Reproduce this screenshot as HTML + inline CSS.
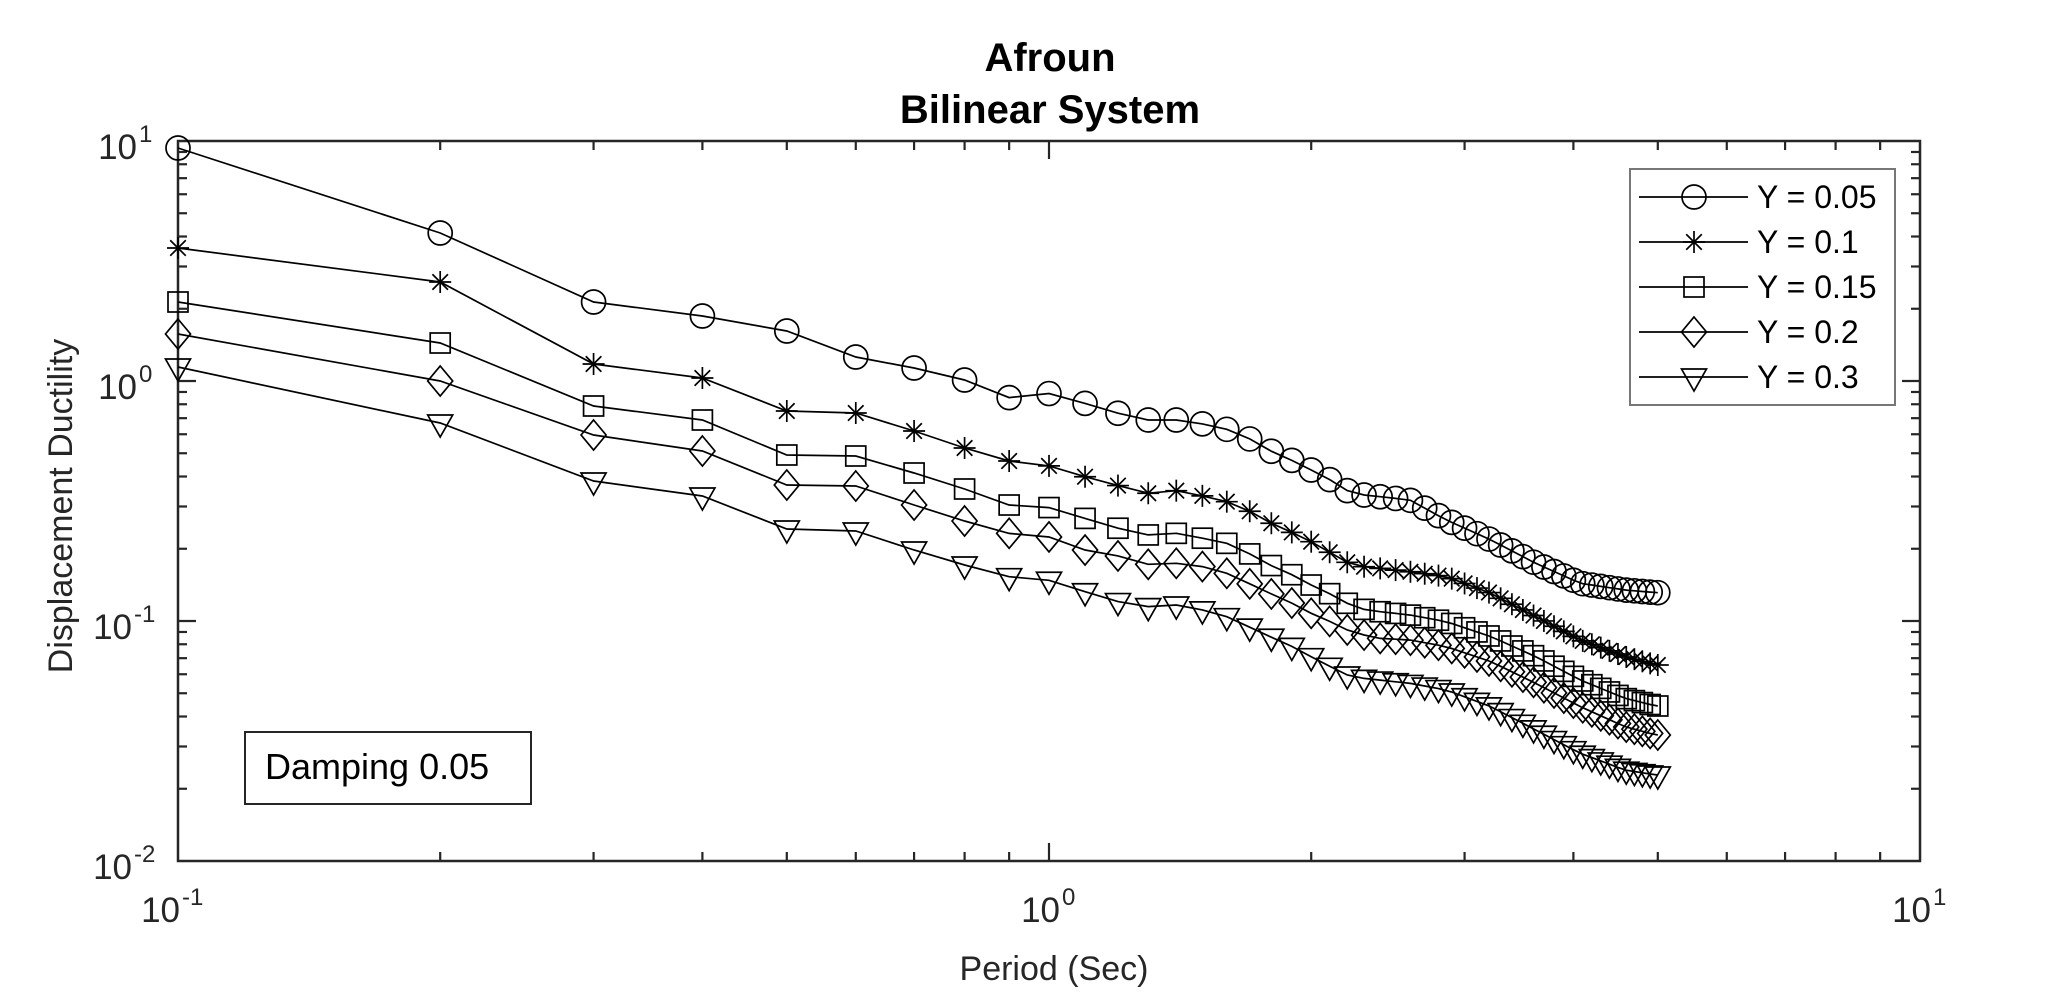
<!DOCTYPE html>
<html><head><meta charset="utf-8"><style>
html,body{margin:0;padding:0;background:#fff;}
svg{display:block;font-family:"Liberation Sans",Arial,sans-serif;}
</style></head><body>
<svg id="s" width="2056" height="1004" viewBox="0 0 2056 1004" xmlns="http://www.w3.org/2000/svg">
<rect width="2056" height="1004" fill="#fff"/>
<text x="1050" y="71" font-size="40" font-weight="bold" text-anchor="middle" fill="#000">Afroun</text>
<text x="1050" y="123" font-size="40" font-weight="bold" text-anchor="middle" fill="#000">Bilinear System</text>
<text x="1054" y="980" font-size="34" text-anchor="middle" fill="#262626">Period (Sec)</text>
<text transform="translate(72,506) rotate(-90)" font-size="34" text-anchor="middle" fill="#262626">Displacement Ductility</text>
<g id="g"></g>
</svg>
<script>
const g=document.getElementById('g');
const L=178,R=1920,T=141,B=861,DX=871,DY=240;
const X=t=>L+DX*Math.log10(t/0.1);
const Y=v=>T+DY*(1-Math.log10(v));
let h='';
for(let d=-1;d<1;d++)for(let k=1;k<=9;k++){const t=k*Math.pow(10,d);if(k==1&&d==-1)continue;const x=X(t);const len=k==1?18:9;
 h+=`<line x1="${x}" y1="${B}" x2="${x}" y2="${B-len}" stroke="#262626" stroke-width="2.2"/><line x1="${x}" y1="${T}" x2="${x}" y2="${T+len}" stroke="#262626" stroke-width="2.2"/>`;}
for(let d=-2;d<1;d++)for(let k=1;k<=9;k++){const v=k*Math.pow(10,d);if(k==1&&d==-2)continue;const y=Y(v);const len=k==1?18:9;
 h+=`<line x1="${L}" y1="${y}" x2="${L+len}" y2="${y}" stroke="#262626" stroke-width="2.2"/><line x1="${R}" y1="${y}" x2="${R-len}" y2="${y}" stroke="#262626" stroke-width="2.2"/>`;}
h+=`<rect x="${L}" y="${T}" width="${R-L}" height="${B-T}" fill="none" stroke="#262626" stroke-width="2.5"/>`;
[[1,141],[0,381],[-1,621],[-2,861]].forEach(([e,y])=>{
 const xe=e<0?132:137;
 h+=`<text x="${xe}" y="${y+18}" font-size="35" text-anchor="end" fill="#262626">10</text><text x="${xe+2}" y="${y+1}" font-size="24" fill="#262626">${e}</text>`;});
[[-1,178],[0,1049],[1,1920]].forEach(([e,x])=>{
 const xe=e<0?x+2:x+11;
 h+=`<text x="${xe}" y="922" font-size="35" text-anchor="end" fill="#262626">10</text><text x="${xe+2}" y="905" font-size="24" fill="#262626">${e}</text>`;});
const early={
c:[148,233,302,316,331,357,368,380],
s:[248,282,364,378,411,413,431,448],
q:[302,343,406,420,455,456,473,489],
d:[334,381,435,451,485,486,505,521],
t:[367,423,481,496,529,531,550,565]};
const zx=[20,108,190,265,330,395,455,508,557,605,655,697,740,778,815,850,918,1000,1100,1200,1300,1400,1470];
const zy={
c:[293,280,310,340,360,360,372,388,415,452,482,510,540,572,585,590,600,660,720,790,850,870,878],
s:[483,497,530,557,580,572,588,605,632,668,698,725,758,787,800,805,815,830,880,950,1020,1070,1095],
q:[615,622,655,685,705,700,715,730,760,795,825,855,882,910,928,935,945,965,1010,1070,1140,1195,1218],
d:[700,710,750,768,793,790,800,820,850,880,910,940,965,990,1005,1015,1020,1040,1085,1150,1220,1280,1305],
t:[830,840,875,905,920,915,930,950,980,1010,1040,1070,1100,1125,1135,1140,1150,1170,1220,1290,1360,1410,1425]};
function marker(k,x,y){
 const st='fill="none" stroke="#000" stroke-width="1.7"';
 if(k=='c')return `<circle cx="${x}" cy="${y}" r="12" ${st}/>`;
 if(k=='q')return `<rect x="${x-10}" y="${y-10}" width="20" height="20" ${st}/>`;
 if(k=='d')return `<polygon points="${x},${y-15} ${x+12.5},${y} ${x},${y+15} ${x-12.5},${y}" ${st}/>`;
 if(k=='t')return `<polygon points="${x-12.5},${y-8} ${x+12.5},${y-8} ${x},${y+14}" ${st}/>`;
 if(k=='s'){let o='';for(let a=0;a<4;a++){const an=a*Math.PI/4;const dx=11*Math.cos(an),dy=11*Math.sin(an);o+=`<line x1="${x-dx}" y1="${y-dy}" x2="${x+dx}" y2="${y+dy}" stroke="#000" stroke-width="1.7"/>`;}return o;}
}
['c','s','q','d','t'].forEach(k=>{
 const cp=[];
 for(let i=0;i<8;i++)cp.push([X(0.1*(i+1)),early[k][i]]);
 for(let i=0;i<zx.length;i++)cp.push([1000+zx[i]/2.24,300+zy[k][i]/3]);
 cp.sort((a,b)=>a[0]-b[0]);
 const pts=[];
 for(let i=1;i<=50;i++){const x=X(i/10);let y=cp[cp.length-1][1];
  for(let j=0;j<cp.length-1;j++){if(x>=cp[j][0]&&x<=cp[j+1][0]){const f=(x-cp[j][0])/(cp[j+1][0]-cp[j][0]||1);y=cp[j][1]+f*(cp[j+1][1]-cp[j][1]);break;}}
  if(x<cp[0][0])y=cp[0][1];
  pts.push([x,y]);}
 h+=`<polyline points="${pts.map(p=>p[0].toFixed(1)+','+p[1].toFixed(1)).join(' ')}" fill="none" stroke="#000" stroke-width="1.7"/>`;
 pts.forEach(p=>h+=marker(k,p[0],p[1]));
});
h+=`<rect x="1630" y="169" width="265" height="236" fill="#fff" stroke="#777" stroke-width="2"/>`;
const labs=[['c','Y = 0.05'],['s','Y = 0.1'],['q','Y = 0.15'],['d','Y = 0.2'],['t','Y = 0.3']];
labs.forEach(([k,t],i)=>{const y=197+45*i;
 h+=`<line x1="1639" y1="${y}" x2="1748" y2="${y}" stroke="#000" stroke-width="1.7"/>`+marker(k,1694,y)+
 `<text x="1757" y="${y+11}" font-size="32" fill="#000">${t}</text>`;});
h+=`<rect x="245" y="732" width="286" height="72" fill="#fff" stroke="#262626" stroke-width="2"/><text x="265" y="779" font-size="36" fill="#000">Damping 0.05</text>`;
g.innerHTML=h;
</script>
</body></html>
